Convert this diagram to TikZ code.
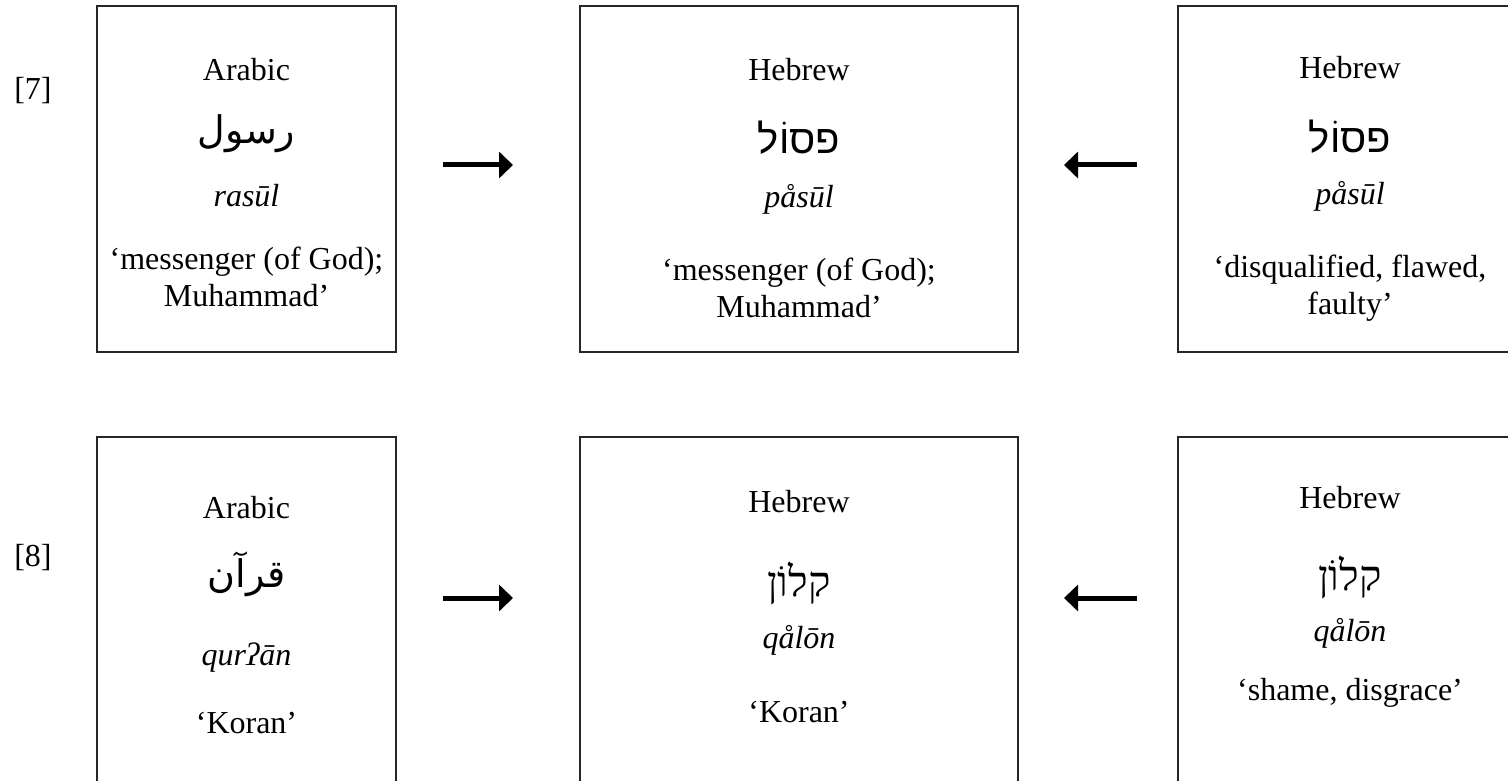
\documentclass[tikz,border=0pt]{standalone}
\usepackage{fontspec}
\setmainfont{Liberation Serif}
\newfontfamily\hebsans[Script=Hebrew]{Liberation Sans}
\newfontfamily\hebserif[Script=Hebrew]{Liberation Serif}
\newfontfamily\arabicfont[Script=Arabic]{DejaVu Sans}
\TeXXeTstate=1
\usetikzlibrary{arrows.meta}
\tikzset{
  txt/.style={inner sep=0pt, font=\fontsize{32}{37}\selectfont, align=center},
  tr/.style={txt, font=\fontsize{32}{37}\selectfont\itshape},
  heb/.style={inner sep=0pt, font=\fontsize{40}{44}\selectfont\hebsans},
  hebs/.style={inner sep=0pt, font=\fontsize{42}{46}\selectfont\hebserif},
  arab/.style={inner sep=0pt, font=\fontsize{38}{44}\selectfont\arabicfont},
  boxline/.style={line width=1.6pt, draw=black!85},
  arr/.style={line width=5pt, -{Triangle[length=14pt,width=26pt]}}
}
\begin{document}
\begin{tikzpicture}[x=1pt,y=-1pt]
\useasboundingbox (0,0) rectangle (1508,781);
% boxes row 1
\draw[boxline] (97,6) rectangle (396,352);
\draw[boxline] (580,6) rectangle (1018,352);
\draw[boxline] (1178,6) rectangle (1540,352);
% boxes row 2
\draw[boxline] (97,437) rectangle (396,820);
\draw[boxline] (580,437) rectangle (1018,820);
\draw[boxline] (1178,437) rectangle (1540,820);
% labels
\node[txt] (l7) at (33,91) {[7]};
\node[txt] (l8) at (33,558) {[8]};
% row 1 box 1
\node[txt] (a1) at (246.5,70) {Arabic};
\node[arab] (a2) at (246.5,134) {\beginR رسول\endR};
\node[tr] (a3) at (246.5,196) {rasūl};
\node[txt] (a4) at (246.5,277) {‘messenger (of God);\\Muhammad’};
% row 1 box 2
\node[txt] (b1) at (799,70) {Hebrew};
\node[heb] (b2) at (799,138) {\beginR פסוֹל\endR};
\node[tr] (b3) at (799,199) {påsūl};
\node[txt] (b4) at (799,288) {‘messenger (of God);\\Muhammad’};
% row 1 box 3
\node[txt] (c1) at (1350,68) {Hebrew};
\node[heb] (c2) at (1350,137) {\beginR פסוֹל\endR};
\node[tr] (c3) at (1350,196) {påsūl};
\node[txt] (c4) at (1350,288) {‘disqualified, flawed,\\faulty’};
% row 2 box 1
\node[txt] (d1) at (246.5,508) {Arabic};
\node[arab] (d2) at (246.5,574) {\beginR قرآن\endR};
\node[tr] (d3) at (246.5,658) {qurʔān};
\node[txt] (d4) at (246.5,723) {‘Koran’};
% row 2 box 2
\node[txt] (e1) at (799,502) {Hebrew};
\node[hebs] (e2) at (799,583) {\beginR קלוֹן\endR};
\node[tr] (e3) at (799,640) {qålōn};
\node[txt] (e4) at (799,712) {‘Koran’};
% row 2 box 3
\node[txt] (f1) at (1350,498) {Hebrew};
\node[hebs] (f2) at (1350,577) {\beginR קלוֹן\endR};
\node[tr] (f3) at (1350,633) {qålōn};
\node[txt] (f4) at (1350,693) {‘shame, disgrace’};
% arrows
\coordinate (r1s) at (443,165); \coordinate (r1e) at (513,165);
\coordinate (l1s) at (1137,165); \coordinate (l1e) at (1064,165);
\coordinate (r2s) at (443,598); \coordinate (r2e) at (513,598);
\coordinate (l2s) at (1137,598); \coordinate (l2e) at (1064,598);
\draw[arr] (r1s) -- (r1e);
\draw[arr] (l1s) -- (l1e);
\draw[arr] (r2s) -- (r2e);
\draw[arr] (l2s) -- (l2e);
\end{tikzpicture}
\end{document}
